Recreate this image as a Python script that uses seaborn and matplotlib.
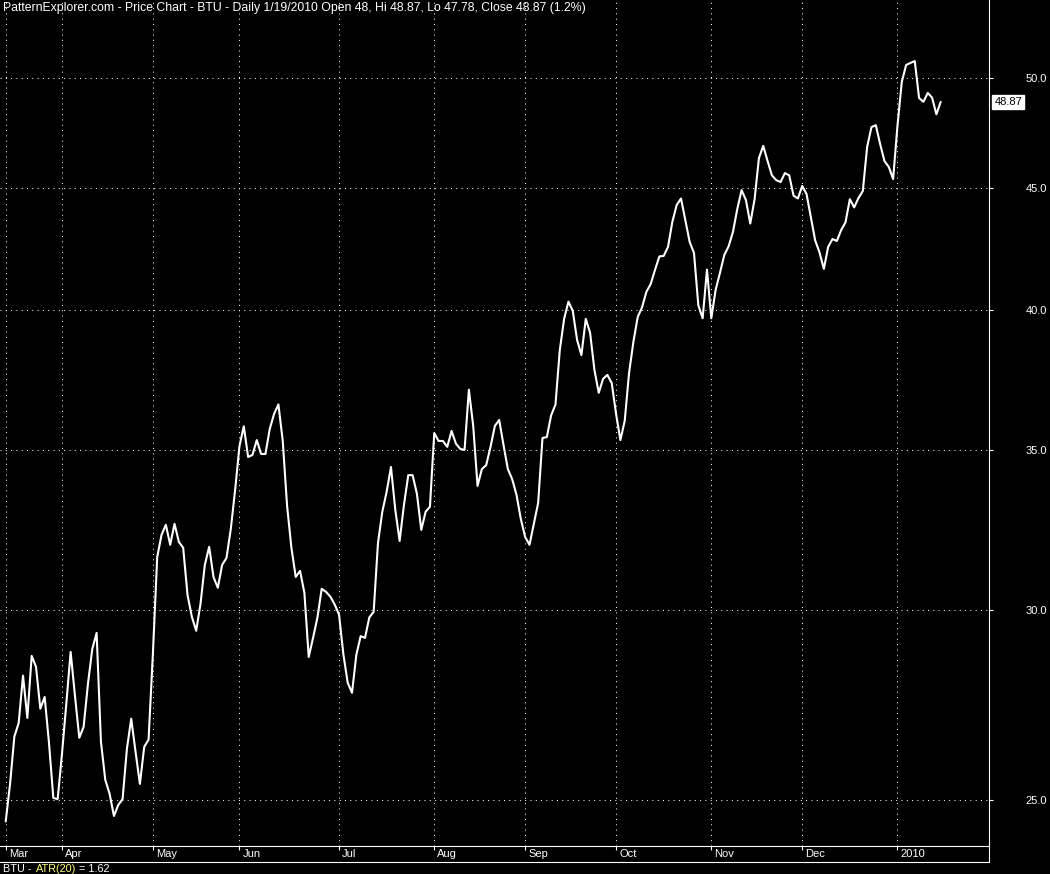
import matplotlib
matplotlib.use("Agg")
import matplotlib.pyplot as plt
import matplotlib.transforms as mtransforms
from matplotlib.lines import Line2D
from matplotlib.ticker import NullLocator
import seaborn as sns
import pandas as pd

# BTU daily close, Mar 2009 - Jan 19 2010
close = [
    24.49, 25.38, 26.57, 26.92, 28.17, 27.05, 28.71, 28.41, 27.29, 27.60,
    26.41, 25.05, 25.02, 26.13, 27.42, 28.82, 27.63, 26.54, 26.82, 27.95,
    28.90, 29.35, 26.44, 25.49, 25.15, 24.62, 24.88, 25.02, 26.26, 27.03,
    26.18, 25.39, 26.31, 26.49, 28.76, 31.57, 32.25, 32.56, 31.94, 32.59,
    32.03, 31.85, 30.44, 29.81, 29.41, 30.18, 31.33, 31.88, 30.97, 30.65,
    31.33, 31.54, 32.43, 33.67, 35.12, 35.79, 34.75, 34.82, 35.32, 34.85,
    34.85, 35.70, 36.22, 36.55, 35.29, 33.16, 31.85, 30.97, 31.15, 30.50,
    28.68, 29.21, 29.78, 30.62, 30.53, 30.39, 30.16, 29.87, 28.76, 27.98,
    27.71, 28.74, 29.26, 29.21, 29.79, 29.95, 32.00, 32.97, 33.61, 34.42,
    33.03, 32.06, 33.19, 34.15, 34.15, 33.54, 32.40, 32.97, 33.13, 35.56,
    35.29, 35.29, 35.09, 35.63, 35.20, 35.02, 34.99, 37.07, 35.80, 33.80,
    34.35, 34.48, 35.09, 35.80, 36.01, 35.15, 34.35, 34.02, 33.51, 32.74,
    32.18, 31.94, 32.59, 33.25, 35.39, 35.42, 36.17, 36.54, 38.51, 39.68,
    40.34, 39.98, 38.88, 38.32, 39.68, 39.15, 37.78, 36.96, 37.46, 37.60,
    37.30, 36.22, 35.32, 35.98, 37.67, 38.81, 39.75, 40.12, 40.72, 41.03,
    41.59, 42.13, 42.15, 42.52, 43.55, 44.26, 44.54, 43.63, 42.72, 42.27,
    40.20, 39.70, 41.60, 39.70, 40.80, 41.47, 42.19, 42.54, 43.13, 44.09,
    44.90, 44.47, 43.48, 44.51, 46.30, 46.85, 46.17, 45.54, 45.33, 45.25,
    45.64, 45.54, 44.66, 44.54, 45.08, 44.73, 43.75, 42.78, 42.29, 41.63,
    42.52, 42.84, 42.76, 43.21, 43.53, 44.51, 44.16, 44.56, 44.86, 46.80,
    47.70, 47.79, 46.93, 46.17, 45.91, 45.38, 47.75, 49.81, 50.63, 50.73,
    50.82, 49.05, 48.87, 49.29, 49.07, 48.29, 48.87,
]

month_pos = [0, 13, 34, 54, 77, 99, 120, 141, 163, 184, 206]
month_labels = ["Mar", "Apr", "May", "Jun", "Jul", "Aug", "Sep", "Oct", "Nov", "Dec", "2010"]
price_ticks = [25, 30, 35, 40, 45, 50]

title = ("PatternExplorer.com - Price Chart - BTU - Daily 1/19/2010 "
         "Open 48, Hi 48.87, Lo 47.78, Close 48.87 (1.2%)")
last_close = close[-1]
atr_value = 1.62

sns.set_theme(style="dark", rc={
    "axes.facecolor": "black",
    "figure.facecolor": "black",
    "text.color": "white",
})
plt.rcParams["font.family"] = ["Liberation Sans Narrow", "Liberation Sans", "DejaVu Sans"]

W, H = 1050, 874
fig = plt.figure(figsize=(W / 100, H / 100), dpi=100, facecolor="black")
ax = fig.add_axes([0, 28 / H, 989 / W, 846 / H])

df = pd.DataFrame({"day": range(len(close)), "close": close})
sns.lineplot(data=df, x="day", y="close", ax=ax, color="white", linewidth=1.5)

ax.set_yscale("log")
ax.set_ylim(23.92, 53.89)
ax.set_xlim(-1.317, 227.15)
ax.set_xlabel("")
ax.set_ylabel("")

ax.yaxis.tick_right()
ax.set_yticks(price_ticks)
ax.set_yticklabels([f"{v:.1f}" for v in price_ticks])
ax.yaxis.set_minor_locator(NullLocator())
ax.set_xticks(month_pos)
ax.set_xticklabels(month_labels)

ax.tick_params(axis="x", colors="white", length=3, width=0.8, direction="out",
               pad=-1, labelsize=8, bottom=True)
ax.tick_params(axis="y", colors="white", length=3, width=0.8, direction="out",
               pad=38.8, labelsize=8, right=True, left=False)
for lab in ax.get_yticklabels():
    lab.set_ha("right")
shift = mtransforms.ScaledTranslation(3 / 100, 0, fig.dpi_scale_trans)
for lab in ax.get_xticklabels():
    lab.set_ha("left")
    lab.set_transform(lab.get_transform() + shift)

ax.grid(True, color="white", linestyle=(0, (1, 4.3)), linewidth=0.72)

for side in ["top", "left"]:
    ax.spines[side].set_visible(False)
for side in ["bottom", "right"]:
    ax.spines[side].set_color("white")
    ax.spines[side].set_linewidth(0.8)

# month strip frame below the plot
fig.add_artist(Line2D([0, 989 / W], [12 / H, 12 / H], color="white", lw=0.8,
                      transform=fig.transFigure))
fig.add_artist(Line2D([989 / W, 989 / W], [12 / H, 28 / H], color="white", lw=0.8,
                      transform=fig.transFigure))

# last price tag
ax.text(1008.4 / 989, last_close, f"{last_close:.2f}", transform=ax.get_yaxis_transform(),
        ha="center", va="center", color="black", fontsize=8,
        bbox=dict(boxstyle="square,pad=0.2", facecolor="white", edgecolor="white"))

fig.text(3 / W, 1 - 8.5 / H, title, color="white", fontsize=8.8, ha="left", va="center")

# indicator caption along the bottom edge
renderer = fig.canvas.get_renderer()
x_px = 3
for part, colour, gap in [("BTU -", "white", 4), ("ATR(20)", "#ffff80", 3),
                          (f"= {atr_value:.2f}", "white", 0)]:
    t = fig.text(x_px / W, 0.5 / H, part, color=colour, fontsize=7.8,
                 ha="left", va="bottom")
    bb = t.get_window_extent(renderer)
    x_px = bb.x1 + gap

fig.savefig("out.png", dpi=100, facecolor="black")
